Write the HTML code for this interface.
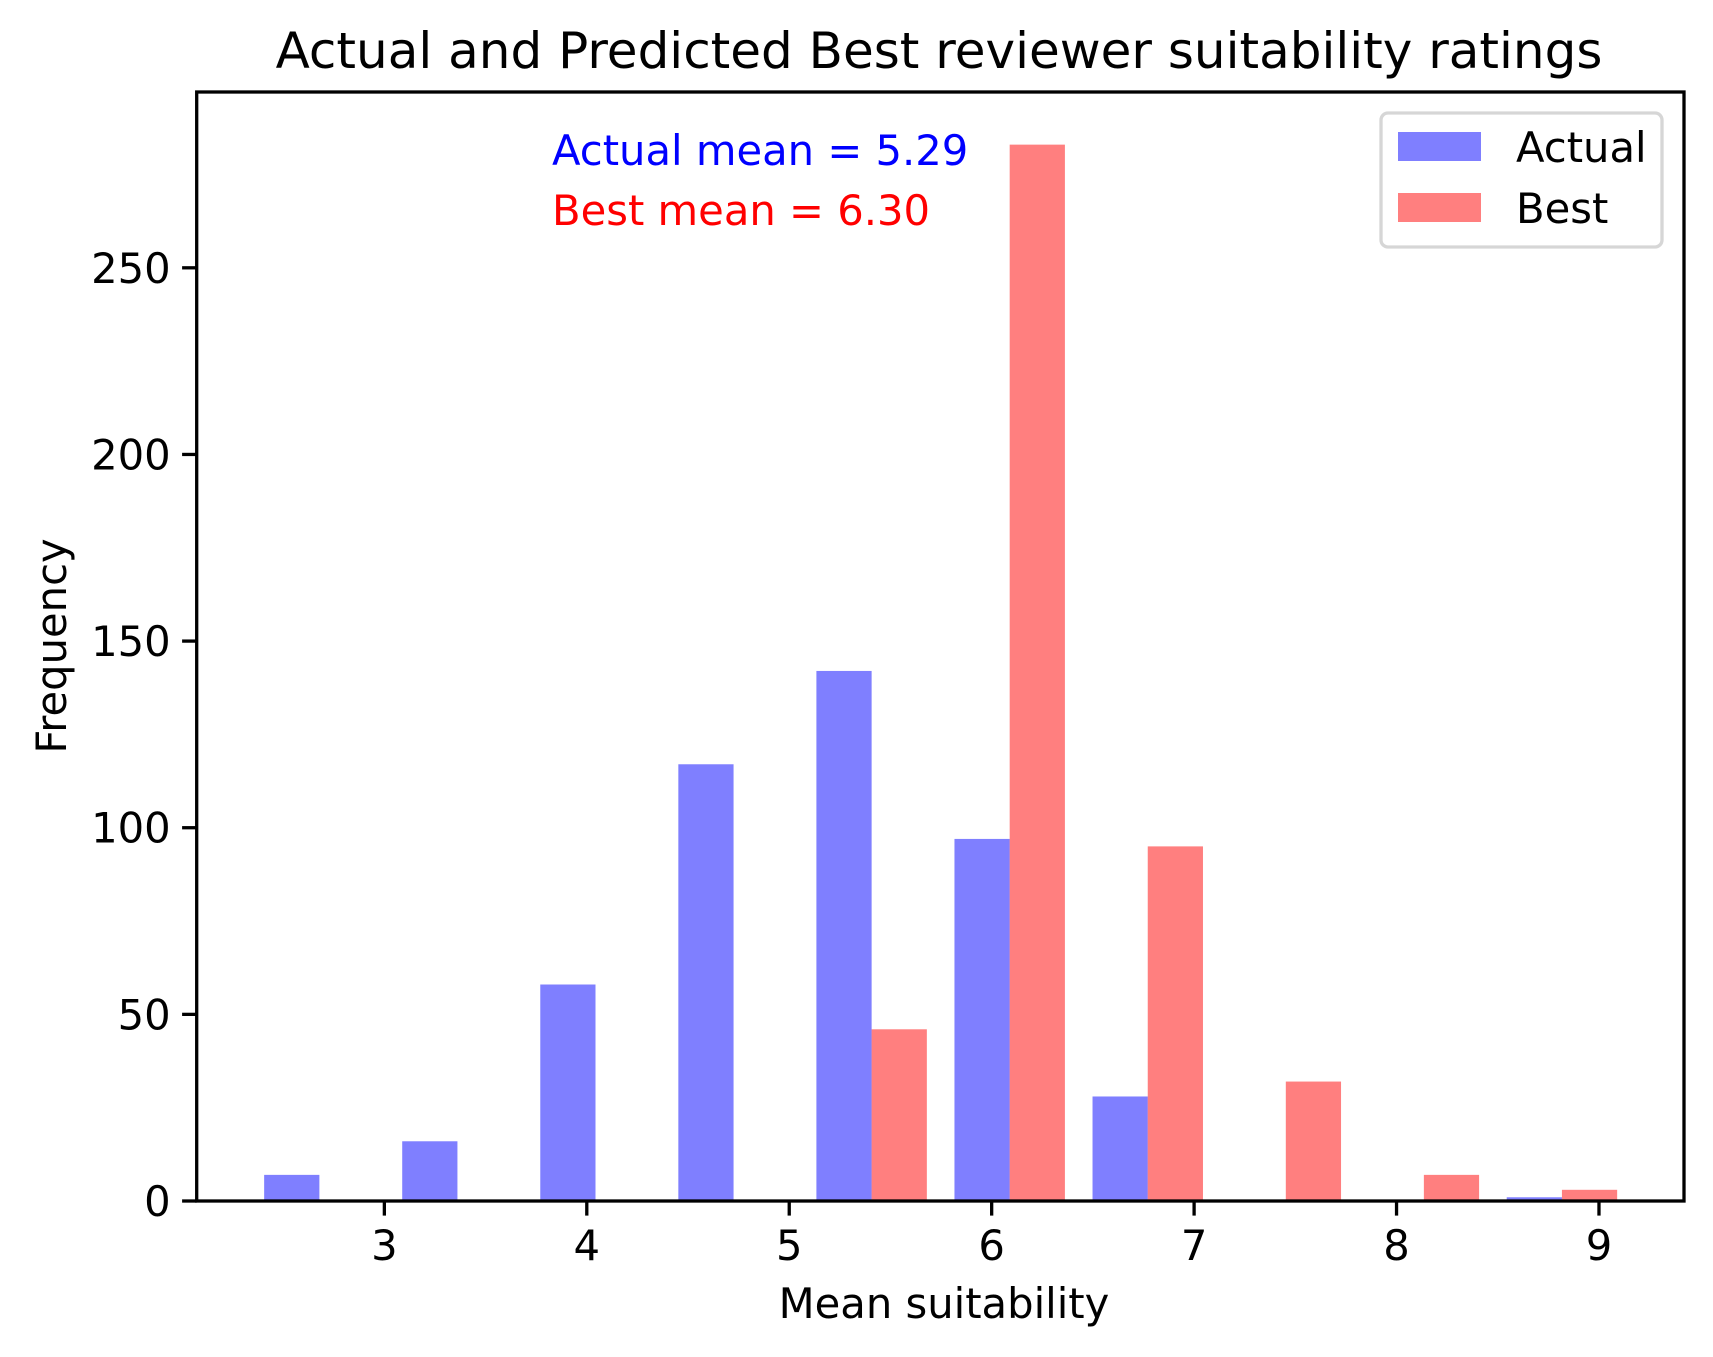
<!DOCTYPE html>
<html><head><meta charset="utf-8"><style>
html,body{margin:0;padding:0;background:#fff}
svg{display:block;font-family:"DejaVu Sans","Liberation Sans",sans-serif}
</style></head><body>
<svg id="chart" width="1713" height="1357" viewBox="0 0 1713 1357">
<rect width="1713" height="1357" fill="#fff"/>
<text x="939" y="68" font-size="50" text-anchor="middle">Actual and Predicted Best reviewer suitability ratings</text>
<g id="bars"></g>
<g id="axes"></g>
<text x="552" y="165" font-size="41.7" fill="#0000ff">Actual mean = 5.29</text>
<text x="552" y="225" font-size="41.7" fill="#ff0000">Best mean = 6.30</text>
<g transform="translate(-8,0)">
<rect x="1389" y="113" width="281" height="134" rx="7" fill="#fff" fill-opacity="0.8" stroke="#d6d6d6" stroke-width="3.3"/>
<rect x="1406" y="132" width="83" height="29" fill="#0000ff" fill-opacity="0.5"/>
<text x="1524" y="162" font-size="41.7">Actual</text>
<rect x="1406" y="193" width="83" height="29" fill="#ff0000" fill-opacity="0.5"/>
<text x="1524" y="223" font-size="41.7">Best</text>
</g>
<text x="944" y="1318" font-size="41.7" text-anchor="middle">Mean suitability</text>
<text transform="translate(66,646) rotate(-90)" font-size="41.7" text-anchor="middle">Frequency</text>
</svg>
<script>
const binStart = 2.338;
const binWidth = 0.682;
const actualCounts = [7, 16, 58, 117, 142, 97, 28, 0, 0, 1];
const bestCounts = [0, 0, 0, 0, 46, 283, 95, 32, 7, 3];
const xTicks = [3, 4, 5, 6, 7, 8, 9];
const yTicks = [0, 50, 100, 150, 200, 250];

const L = 196.7, R = 1684, T = 92, B = 1201;
const xMin = 2.073, xMax = 9.42, yMax = 297.1;
const xs = v => L + (v - xMin) / (xMax - xMin) * (R - L);
const ys = v => B - v / yMax * (B - T);
const NS = 'http://www.w3.org/2000/svg';
const bars = document.getElementById('bars');
const axes = document.getElementById('axes');
function mk(tag, attrs, parent) {
  const e = document.createElementNS(NS, tag);
  for (const k in attrs) e.setAttribute(k, attrs[k]);
  parent.appendChild(e);
  return e;
}
const bw = binWidth * 0.4;
actualCounts.forEach((c, i) => {
  const x0 = binStart + i * binWidth + binWidth * 0.1;
  const r = mk('rect', {x: xs(x0), y: ys(c), width: xs(x0 + bw) - xs(x0), height: ys(0) - ys(c), fill: '#0000ff', 'fill-opacity': 0.5}, bars);
  
  
});
bestCounts.forEach((c, i) => {
  const x0 = binStart + i * binWidth + binWidth * 0.1 + bw;
  const r = mk('rect', {x: xs(x0), y: ys(c), width: xs(x0 + bw) - xs(x0), height: ys(0) - ys(c), fill: '#ff0000', 'fill-opacity': 0.5}, bars);
  
  
});
const frame = mk('rect', {x: L, y: T, width: R - L, height: B - T, fill: 'none', stroke: '#000', 'stroke-width': 3.3}, axes);


xTicks.forEach(t => {
  const x = xs(t);
  const l = mk('line', {x1: x, x2: x, y1: B, y2: B + 14.6, stroke: '#000', 'stroke-width': 3.3}, axes);
  
  
  const tx = mk('text', {x: x, y: 1260, 'font-size': 41.7, 'text-anchor': 'middle'}, axes);
  tx.textContent = t;
  
  
});
yTicks.forEach(t => {
  const y = ys(t);
  const l = mk('line', {x1: L - 14.6, x2: L, y1: y, y2: y, stroke: '#000', 'stroke-width': 3.3}, axes);
  
  
  const tx = mk('text', {x: L - 26, y: y + 15, 'font-size': 41.7, 'text-anchor': 'end'}, axes);
  tx.textContent = t;
  
  
});
</script>
</body></html>
